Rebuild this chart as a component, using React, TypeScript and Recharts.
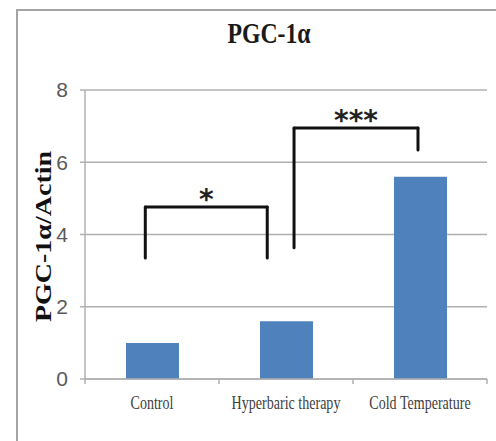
import React from "react";
import {
  Bar,
  BarChart,
  CartesianGrid,
  ReferenceDot,
  ReferenceLine,
  XAxis,
  YAxis,
} from "recharts";

const CATEGORIES = ["Control", "Hyperbaric therapy", "Cold Temperature"];
const VALUES = [1.0, 1.6, 5.6];
const Y_TICKS = [0, 2, 4, 6, 8];
// bracket: x from / to (category units, 0..3), foot levels, top level, stars
const BRACKETS = [
  { x1: 0.45, x2: 1.36, foot1: 3.35, foot2: 3.35, top: 4.76, mark: "*" },
  { x1: 1.56, x2: 2.485, foot1: 3.63, foot2: 6.34, top: 6.95, mark: "***" },
];

const data = CATEGORIES.map((name, i) => ({ pos: i + 0.5, name, value: VALUES[i] }));
const X_TICKS = [0, 0.5, 1, 1.5, 2, 2.5, 3];

const GRID = "#b0b0b0";
const BLUE = "#4f81bd";
const SQUEEZE = 0.82;

function XTick({ x, y, payload }: any) {
  const v = payload.value;
  if (Number.isInteger(v)) {
    return <line x1={x} x2={x} y1={y} y2={y + 5} stroke={GRID} strokeWidth={1.5} />;
  }
  return (
    <text
      transform={`translate(${x},${y + 30}) scale(0.76,1)`}
      textAnchor="middle"
      fontFamily="'Liberation Serif', serif"
      fontSize={18.5}
      fill="#404040"
    >
      {CATEGORIES[Math.floor(v)]}
    </text>
  );
}

function YLabel({ viewBox }: any) {
  const cy = viewBox.y + viewBox.height / 2 + 2;
  return (
    <text
      transform={`translate(43,${cy}) scale(${SQUEEZE},1) rotate(-90)`}
      textAnchor="middle"
      dominantBaseline="central"
      fontFamily="'Liberation Serif', serif"
      fontWeight="bold"
      fontSize={28}
      fill="#111"
    >
      PGC-1α/Actin
    </text>
  );
}

export default function App() {
  return (
    <div style={{ position: "absolute", left: 0, top: 0, width: 496, height: 441, background: "#fff" }}>
      <div
        style={{
          position: "absolute",
          left: 16,
          top: 9,
          width: 478,
          height: 430,
          border: "2px solid #a4a4a4",
        }}
      />
      <BarChart
        width={496}
        height={441}
        data={data}
        margin={{ top: 90, right: 9, bottom: 22, left: 45 }}
        style={{ position: "absolute", left: 0, top: 0 }}
      >
        <CartesianGrid vertical={false} stroke={GRID} strokeWidth={1.5} />
        <XAxis
          dataKey="pos"
          type="number"
          domain={[0, 3]}
          ticks={X_TICKS}
          interval={0}
          height={40}
          tickSize={0}
          tickMargin={0}
          tickLine={false}
          axisLine={{ stroke: GRID, strokeWidth: 1.5 }}
          tick={<XTick />}
        />
        <YAxis
          domain={[0, 8]}
          ticks={Y_TICKS}
          width={40}
          tickSize={5}
          tickMargin={12}
          axisLine={{ stroke: GRID, strokeWidth: 1.5 }}
          tickLine={{ stroke: GRID, strokeWidth: 1.5 }}
          tick={{ fontFamily: "'Liberation Sans', sans-serif", fontSize: 21, fill: "#595959" }}
          label={<YLabel />}
        />
        <Bar dataKey="value" fill={BLUE} barSize={53} isAnimationActive={false} />
        {BRACKETS.map((b, i) => [
          <ReferenceLine
            key={`l${i}`}
            segment={[{ x: b.x1, y: b.foot1 }, { x: b.x1, y: b.top }]}
            stroke="#111"
            strokeWidth={3}
            strokeLinecap="round"
          />,
          <ReferenceLine
            key={`t${i}`}
            segment={[{ x: b.x1, y: b.top }, { x: b.x2, y: b.top }]}
            stroke="#111"
            strokeWidth={3}
            strokeLinecap="round"
          />,
          <ReferenceLine
            key={`r${i}`}
            segment={[{ x: b.x2, y: b.top }, { x: b.x2, y: b.foot2 }]}
            stroke="#111"
            strokeWidth={3}
            strokeLinecap="round"
          />,
          <ReferenceDot
            key={`m${i}`}
            x={(b.x1 + b.x2) / 2}
            y={b.top}
            r={0}
            shape={(p: any) => (
              <text
                x={p.cx}
                y={p.cy + 2}
                textAnchor="middle"
                fontFamily="'DejaVu Sans', sans-serif"
                fontWeight="bold"
                fontSize={28}
                fill="#222"
              >
                {b.mark}
              </text>
            )}
          />,
        ])}
      </BarChart>
      <svg width={496} height={441} style={{ position: "absolute", left: 0, top: 0, pointerEvents: "none" }}>
        <text
          transform={`translate(269,43) scale(${SQUEEZE},1)`}
          textAnchor="middle"
          fontFamily="'Liberation Serif', serif"
          fontWeight="bold"
          fontSize={29}
          fill="#1a1a1a"
        >
          PGC-1α
        </text>
      </svg>
    </div>
  );
}
